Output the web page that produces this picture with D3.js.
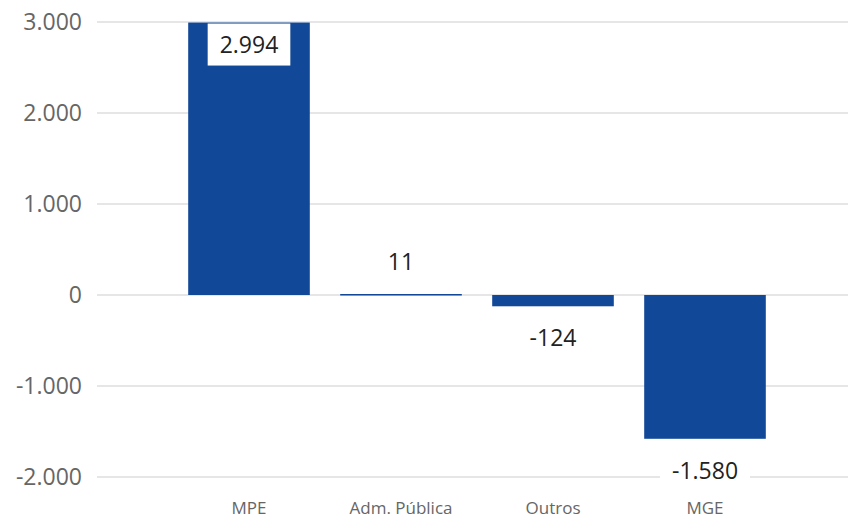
<!DOCTYPE html>
<html>
<head>
<meta charset="utf-8">
<script src="https://cdn.jsdelivr.net/npm/d3@7"></script>
<style>
  body { margin: 0; background: #fff; }
  text { font-family: "Segoe UI", "Open Sans", sans-serif; }
</style>
</head>
<body>
<svg id="chart" width="848" height="524"></svg>
<script>
// data
const categories = ["MPE", "Adm. Pública", "Outros", "MGE"];
const values = [2994, 11, -124, -1580];
const yTicks = [-2000, -1000, 0, 1000, 2000, 3000];

const width = 848, height = 524;
const svg = d3.select('#chart');

// pt-BR style thousands separator, plain hyphen for negatives
const fmt = d3.formatLocale({ decimal: ',', thousands: '.', grouping: [3], currency: ['', ''], minus: '-' }).format(',d');

const x = d3.scaleBand()
    .domain(categories)
    .range([173, 781])
    .paddingInner(0.2)
    .paddingOuter(0.1);

const y = d3.scaleLinear()
    .domain([-2000, 3000])
    .range([477, 22]);

// gridlines
svg.append('g')
    .selectAll('line')
    .data(yTicks)
    .enter()
    .append('line')
    .attr('x1', 97)
    .attr('x2', width)
    .attr('y1', d => y(d))
    .attr('y2', d => y(d))
    .attr('stroke', '#dedede')
    .attr('stroke-width', 1.5);

// y axis labels
const yAxis = d3.axisLeft(y).tickValues(yTicks).tickFormat(fmt).tickSize(0).tickPadding(0);
const yg = svg.append('g')
    .attr('transform', 'translate(82,0)')
    .call(yAxis);
yg.select('.domain').remove();
yg.selectAll('text')
    .attr('fill', '#666')
    .style('font-size', '23px')
    .style('font-family', '"Segoe UI", "Open Sans", sans-serif');

// x axis labels
const xAxis = d3.axisBottom(x).tickSize(0).tickPadding(0);
const xg = svg.append('g')
    .attr('transform', 'translate(0,508)')
    .call(xAxis);
xg.select('.domain').remove();
xg.selectAll('text')
    .attr('fill', '#666')
    .attr('dy', '0.35em')
    .style('font-size', '17px')
    .style('font-family', '"Segoe UI", "Open Sans", sans-serif');

const data = categories.map((c, i) => ({ cat: c, val: values[i] }));

// bars
svg.append('g')
    .selectAll('rect')
    .data(data)
    .enter()
    .append('rect')
    .attr('x', d => x(d.cat))
    .attr('width', x.bandwidth())
    .attr('y', d => y(Math.max(0, d.val)))
    .attr('height', d => Math.max(1.5, Math.abs(y(d.val) - y(0))))
    .attr('fill', '#114898');

// data labels with white background
const boxH = 42;
const labels = svg.append('g')
    .selectAll('g')
    .data(data)
    .enter()
    .append('g')
    .attr('transform', d => {
        let cy;
        if (d.val >= 0) {
            cy = y(d.val) - 32;
            if (cy - boxH / 2 < 0) cy = y(d.val) + 22; // inside end
        } else {
            cy = y(d.val) + 32;
        }
        return `translate(${x(d.cat) + x.bandwidth() / 2},${cy})`;
    });

labels.append('text')
    .attr('text-anchor', 'middle')
    .attr('dy', '0.35em')
    .attr('fill', '#222')
    .style('font-size', '23px')
    .text(d => fmt(d.val));

labels.each(function() {
    const g = d3.select(this);
    const w = g.select('text').node().getComputedTextLength() + 24;
    g.insert('rect', 'text')
        .attr('x', -w / 2)
        .attr('y', -boxH / 2)
        .attr('width', w)
        .attr('height', boxH)
        .attr('fill', '#fff');
});
</script>
</body>
</html>
